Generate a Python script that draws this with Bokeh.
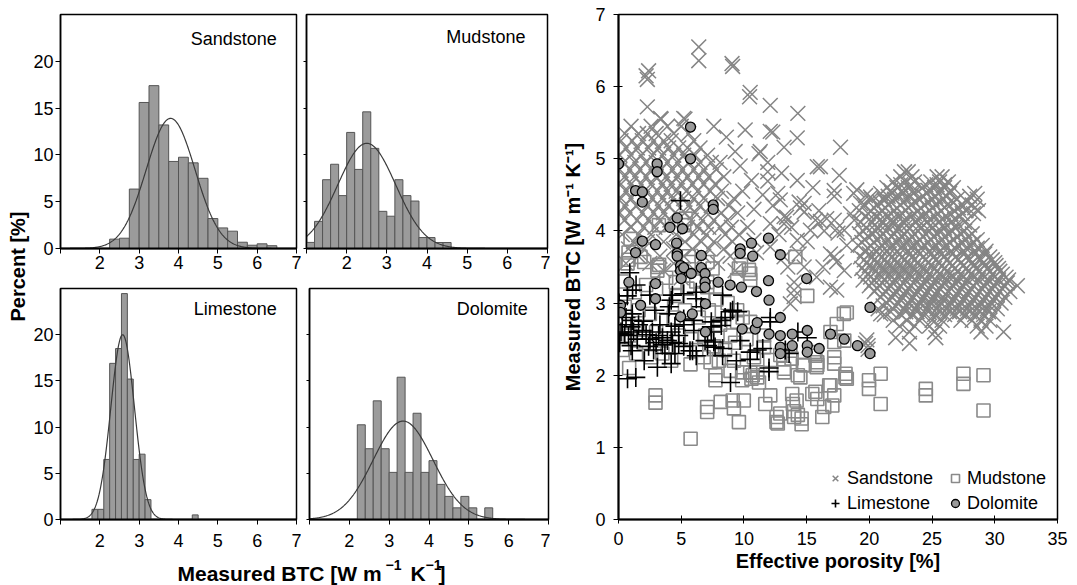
import numpy as np
from bokeh.plotting import figure
from bokeh.layouts import row, column
from bokeh.models import Range1d, Label, Legend, LegendItem, FixedTicker
from bokeh.embed import file_html
from bokeh.resources import INLINE

FONT = "Liberation Sans"

# ---------------- histogram data (percent of samples per BTC bin) ----------------
sand_bin_start, sand_bin_width = 2.25, 0.25
sand_pct = [1.0, 1.1, 6.35, 15.6, 17.4, 13.2, 9.3, 9.75, 9.15, 7.5, 3.2, 2.2, 1.85, 0.67, 0.35, 0.5, 0.3]
sand_fit = (3.8, 0.62, 13.9)          # mean, sd, peak of fitted normal

mud_bin_start, mud_bin_width = 1.0, 0.2
mud_pct = [0.65, 2.9, 7.35, 9.0, 5.65, 12.4, 8.45, 14.6, 10.7, 3.97, 3.45, 7.35, 5.65, 5.07, 1.17, 1.17, 0.64, 0.64]
mud_fit = (2.5, 0.72, 11.24)

lime_bin_start, lime_bin_width = 1.8, 0.15
lime_pct = [1.1, 1.1, 6.5, 16.9, 18.5, 24.45, 15.2, 6.5, 7.07, 2.15, 0, 0, 0, 0, 0, 0, 0, 0.5]
lime_fit = (2.58, 0.3, 20.0)

dolo_bin_start, dolo_bin_width = 2.2, 0.2
dolo_pct = [10.25, 7.66, 12.84, 7.66, 5.1, 15.4, 5.1, 11.5, 5.1, 6.37, 3.8, 2.5, 1.26, 2.5, 1.26, 0, 1.26]
dolo_fit = (3.35, 0.75, 10.65)

hist_x_ticks = [1, 2, 3, 4, 5, 6, 7]
hist_y_ticks = [0, 5, 10, 15, 20]

# ---------------- scatter data: effective porosity [%] vs measured BTC ----------------
sand_sparse_x = [2.2, 2.4, 2.3, 6.4, 6.4, 9.05, 9.1, 10.5, 10.45, 2.3, 12.1, 14.3, 3.35, 5.2, 10.1, 12.1, 14.25,
                 17.7, 11.2, 13.2, 15.85, 14.25, 11.9, 11.9, 17.2, 17.2, 18.75, 19.3, 20.1, 21.2,
                 12.3, 11.3, 16.1, 12.7, 12.9, 12.3, 14.5, 14.8, 14.8, 15.98, 16.6, 13.4, 13.8, 15.7, 15.3,
                 17.2, 17.4, 18.0, 19.0, 19.7, 18.5, 18.8, 12.1, 10.8, 12.1, 14.25, 14.4, 17.2, 17.4, 14.8,
                 14.0, 14.0, 16.9, 17.4, 15.8, 13.2, 13.2, 14.4, 16.1, 16.4, 17.5, 16.9, 15.05, 13.2, 13.5,
                 13.7, 14.0, 19.8, 19.9, 20.9, 17.6, 11.9, 13.0, 15.5, 18.2, 18.0, 16.3, 12.8, 11.5, 10.8,
                 10.6, 9.7, 9.3, 8.6, 7.6, 9.9, 11.0, 10.3]
sand_sparse_y = [6.15, 6.22, 6.1, 6.55, 6.36, 6.32, 6.28, 5.92, 5.86, 5.72, 5.74, 5.63, 5.56, 5.56, 5.4, 5.38, 5.29,
                 5.16, 5.07, 5.16, 4.89, 4.7, 4.82, 4.69, 4.56, 4.48, 4.52, 4.38, 4.47, 4.42,
                 5.37, 5.1, 4.89, 4.52, 4.43, 4.35, 4.32, 4.38, 4.26, 4.28, 4.17, 4.19, 4.05, 4.15, 4.01,
                 4.15, 4.03, 4.01, 4.57, 4.49, 4.24, 4.15, 4.1, 3.87, 3.78, 3.87, 3.68, 3.64, 3.57, 3.5,
                 3.18, 3.09, 3.22, 3.18, 3.36, 4.2, 4.1, 4.4, 4.13, 4.0, 3.97, 3.68, 3.85, 3.64, 3.5,
                 2.99, 3.29, 2.49, 2.41, 2.85, 4.77, 4.95, 4.8, 4.6, 3.8, 3.45, 3.5, 3.95, 4.5, 4.3,
                 4.7, 4.9, 5.1, 5.3, 5.45, 4.55, 3.7, 4.05]

# low-porosity sandstone cloud, listed row by row as (BTC, [porosity, ...])
sand_left_rows = [
    (5.55, [3.4, 5.3]),
    (5.45, [1.0, 2.6, 3.9, 5.0]),
    (5.35, [0.5, 1.6, 2.3, 3.0, 4.4, 5.6]),
    (5.25, [0.2, 1.1, 1.9, 2.8, 3.6, 4.2, 6.0]),
    (5.15, [0.6, 1.5, 2.4, 3.2, 4.0, 4.8, 5.5, 6.5]),
    (5.05, [0.1, 1.0, 1.8, 2.7, 3.5, 4.4, 5.2, 6.1, 7.1]),
    (4.95, [0.4, 1.3, 2.2, 3.0, 3.9, 4.7, 5.6, 6.5, 7.4, 8.1]),
    (4.85, [0.1, 0.9, 1.7, 2.6, 3.4, 4.3, 5.1, 6.0, 6.8, 7.8]),
    (4.75, [0.5, 1.3, 2.2, 3.0, 3.8, 4.7, 5.5, 6.4, 7.2, 8.4]),
    (4.65, [0.2, 1.0, 1.8, 2.6, 3.5, 4.2, 5.0, 5.9, 6.8, 7.7]),
    (4.55, [0.6, 1.4, 2.3, 3.1, 3.9, 4.6, 5.4, 6.3, 7.3, 8.2]),
    (4.45, [0.2, 1.0, 1.9, 2.7, 3.5, 4.3, 5.2, 6.0, 6.8, 7.9, 9.2]),
    (4.35, [0.5, 1.4, 2.3, 3.2, 4.0, 5.6, 6.5, 7.4, 8.8]),
    (4.25, [0.1, 0.9, 1.9, 2.8, 3.6, 4.5, 5.3, 6.1, 7.0, 8.2, 9.5]),
    (4.15, [0.5, 1.5, 2.4, 3.3, 4.1, 5.8, 6.7, 7.6, 8.7]),
    (4.05, [1.0, 2.0, 2.9, 3.8, 5.5, 6.3, 7.2, 8.1, 9.0]),
    (3.95, [0.3, 1.6, 2.6, 4.6, 6.0, 7.0, 8.5, 9.6]),
    (3.85, [1.2, 2.3, 3.6, 5.3, 6.6, 7.6, 9.1]),
    (3.75, [0.8, 2.0, 4.4, 5.9, 7.2, 8.4]),
    (3.65, [1.6, 3.3, 5.2, 6.8, 8.9]),
    (3.55, [0.6, 2.5, 4.4, 7.9]),
    (3.45, [3.6, 6.1, 9.3]),
    (3.35, [5.0]),
]

# high-porosity sandstone cluster
sand_right_rows = [
    (4.82, [22.8, 23.1]),
    (4.75, [22.5, 23.4, 25.4, 25.8]),
    (4.68, [21.9, 22.9, 23.6, 24.9, 25.6, 26.3]),
    (4.60, [21.4, 22.2, 23.1, 24.2, 25.2, 26.0, 26.7]),
    (4.52, [20.9, 21.8, 22.7, 23.5, 24.6, 25.5, 26.4, 28.4]),
    (4.44, [20.2, 21.2, 22.0, 23.0, 24.0, 25.0, 25.9, 27.0, 28.6]),
    (4.36, [19.6, 20.6, 21.5, 22.5, 23.3, 24.4, 25.3, 26.2, 27.4, 28.2]),
    (4.28, [19.2, 20.1, 21.0, 22.0, 22.9, 23.9, 24.8, 25.7, 26.8, 27.7, 28.7]),
    (4.20, [19.7, 20.5, 21.4, 22.3, 23.3, 24.2, 25.2, 26.1, 27.2]),
    (4.12, [19.3, 20.2, 21.0, 21.8, 22.7, 23.7, 24.6, 25.5, 26.5, 27.6]),
    (4.04, [19.8, 20.7, 21.5, 22.3, 23.2, 24.1, 25.0, 26.0, 26.9]),
    (3.96, [19.2, 20.3, 21.1, 22.0, 22.8, 23.6, 24.5, 25.4, 26.3, 27.3, 28.2]),
    (3.88, [19.6, 20.6, 21.5, 22.4, 23.2, 24.0, 24.9, 25.8, 26.7, 27.7, 28.6]),
    (3.80, [19.1, 20.1, 21.0, 21.8, 22.7, 23.5, 24.4, 25.3, 26.1, 27.1, 28.0, 29.0]),
    (3.72, [19.6, 20.5, 21.4, 22.2, 23.1, 23.9, 24.8, 25.6, 26.5, 27.5, 28.4, 29.3]),
    (3.64, [19.3, 20.2, 21.0, 21.8, 22.6, 23.4, 24.3, 25.1, 25.9, 26.9, 27.8, 28.7, 29.6]),
    (3.56, [19.8, 20.6, 21.4, 22.2, 23.0, 23.8, 24.7, 25.5, 26.4, 27.3, 28.2, 29.1, 30.0]),
    (3.48, [19.4, 20.3, 21.1, 21.9, 22.7, 23.5, 24.3, 25.2, 26.0, 26.8, 27.7, 28.5, 29.4, 30.3]),
    (3.40, [19.9, 20.8, 21.6, 22.4, 23.2, 24.0, 24.8, 25.6, 26.4, 27.3, 28.1, 29.0, 29.8, 30.6]),
    (3.32, [19.5, 20.4, 21.2, 22.0, 22.9, 23.7, 24.5, 25.3, 26.2, 27.0, 27.8, 28.7, 29.5, 30.3, 31.1]),
    (3.24, [20.0, 20.8, 21.7, 22.5, 23.3, 24.2, 25.0, 25.8, 26.7, 27.5, 28.3, 29.2, 30.0, 30.8, 31.8]),
    (3.16, [20.4, 21.3, 22.1, 22.9, 23.8, 24.6, 25.4, 26.3, 27.1, 27.9, 28.8, 29.6, 30.4, 31.2]),
    (3.08, [20.9, 21.8, 22.6, 23.5, 24.3, 25.1, 25.9, 26.8, 27.6, 28.4, 29.2, 30.0, 30.8]),
    (3.00, [21.4, 22.3, 23.1, 24.0, 24.9, 25.7, 26.5, 27.3, 28.1, 28.9, 29.7, 30.5]),
    (2.92, [20.7, 21.9, 22.8, 23.7, 24.6, 25.4, 26.2, 27.0, 27.8, 28.6, 29.4, 30.2]),
    (2.84, [21.2, 22.5, 23.4, 24.3, 25.2, 26.0, 26.8, 27.6, 28.4, 29.1, 29.9]),
    (2.76, [21.9, 23.0, 24.0, 25.0, 25.8, 27.3, 28.2, 28.9, 29.6]),
    (2.68, [22.4, 23.6, 24.8, 25.6, 28.6, 29.3]),
    (2.60, [23.2, 25.2, 28.9, 30.7]),
    (2.52, [22.1, 25.3]),
    (2.44, [23.2, 19.7]),
    (2.36, [19.9]),
]

# densest core of the high-porosity cluster
sand_core_rows = [
    (4.64, [22.5, 23.3, 24.5, 25.4, 26.0]),
    (4.56, [21.7, 22.6, 23.5, 24.7, 25.7, 26.5]),
    (4.48, [21.5, 22.4, 23.3, 24.3, 25.3, 26.1, 28.0]),
    (4.40, [20.8, 21.7, 22.7, 23.6, 24.7, 25.6, 26.7, 27.8]),
    (4.32, [20.4, 21.3, 22.2, 23.1, 24.1, 25.0, 26.0, 27.1, 28.4]),
    (4.24, [19.9, 20.8, 21.7, 22.6, 23.6, 24.5, 25.5, 26.5, 27.4, 28.3]),
    (4.16, [20.0, 20.9, 21.8, 22.8, 23.8, 24.8, 25.8, 26.8]),
    (4.08, [20.4, 21.3, 22.0, 23.0, 24.0, 24.9, 25.9, 26.9, 28.0]),
    (4.00, [19.5, 20.5, 21.3, 22.2, 23.0, 23.9, 24.8, 25.7, 26.6, 27.6]),
    (3.92, [19.9, 20.9, 21.8, 22.6, 23.4, 24.3, 25.1, 26.0, 27.0, 27.9]),
    (3.84, [19.4, 20.4, 21.3, 22.2, 23.0, 23.8, 24.7, 25.6, 26.4, 27.4, 28.3]),
    (3.76, [19.9, 20.8, 21.6, 22.5, 23.3, 24.1, 25.0, 25.9, 26.8, 27.7, 28.6]),
    (3.68, [20.0, 20.8, 21.6, 22.4, 23.2, 24.0, 24.9, 25.8, 26.6, 27.5, 28.4, 29.2]),
    (3.60, [19.6, 20.4, 21.2, 22.0, 22.8, 23.6, 24.5, 25.3, 26.2, 27.1, 28.0, 28.9, 29.8]),
    (3.52, [20.0, 20.8, 21.6, 22.4, 23.2, 24.0, 24.9, 25.8, 26.6, 27.5, 28.3, 29.2, 30.1]),
    (3.44, [19.7, 20.5, 21.3, 22.1, 22.9, 23.8, 24.6, 25.4, 26.2, 27.0, 27.9, 28.7, 29.6, 30.4]),
    (3.36, [20.1, 21.0, 21.8, 22.6, 23.4, 24.2, 25.0, 25.9, 26.7, 27.5, 28.4, 29.2, 30.0, 30.9]),
    (3.28, [20.2, 21.0, 21.9, 22.7, 23.5, 24.3, 25.1, 25.9, 26.8, 27.6, 28.5, 29.3, 30.1, 31.0]),
    (3.20, [20.6, 21.5, 22.3, 23.1, 24.0, 24.8, 25.6, 26.5, 27.3, 28.1, 29.0, 29.8, 30.6]),
    (3.12, [21.1, 22.0, 22.8, 23.7, 24.5, 25.3, 26.1, 27.0, 27.8, 28.6, 29.4, 30.2]),
    (3.04, [21.6, 22.5, 23.3, 24.2, 25.0, 25.9, 26.7, 27.5, 28.3, 29.1, 29.9]),
    (2.96, [21.1, 22.1, 23.0, 23.9, 24.8, 25.6, 26.4, 27.2, 28.0, 28.8, 29.6]),
    (2.88, [21.7, 22.9, 23.8, 24.7, 25.6, 26.4, 27.2, 28.0, 28.8, 29.5]),
]

mud_x = [5.75, 2.95, 2.95, 7.07, 7.07, 8.15, 9.1, 9.2, 9.6, 9.99, 11.7, 12.1, 12.6, 12.6, 12.9, 13.85, 13.9, 14.0,
         14.0, 14.3, 14.6, 14.6, 14.2, 15.45, 15.85, 16.25, 16.8, 17.05, 18.1, 18.1, 19.97, 19.97, 20.9, 20.9,
         24.5, 24.5, 27.5, 27.5, 29.1, 29.1,
         15.05, 17.97, 17.4, 16.9, 17.2, 18.0, 17.2, 17.2, 15.85, 15.85, 15.6, 14.8, 14.3, 13.2, 12.9, 13.7,
         11.06, 11.06, 10.5, 10.7, 9.86, 9.86, 8.93, 7.73, 7.73, 7.34, 5.74, 6.8, 9.46, 9.46, 8.93, 10.5,
         11.6, 11.6, 12.1, 10.8, 0.85, 10.6, 11.2, 13.2, 14.5, 15.8, 16.9, 18.2, 12.7, 15.7, 16.4, 17.2,
         13.8, 14.7, 15.7, 18.2,
         3.22, 5.35, 0.96, 0.8, 0.8, 3.1, 3.1, 5.6, 5.6, 7.1, 9.6, 10.5, 10.5, 14.1, 9.46, 7.07, 7.07, 4.57,
         1.76, 0.72, 2.05, 3.24, 5.24, 9.76, 10.4, 7.5,
         0.4, 1.3, 2.2, 3.0, 3.8, 4.6, 5.5, 6.2, 6.7, 7.8, 8.7, 0.5, 1.6, 2.5, 3.4, 4.4, 5.3, 6.4, 7.2, 8.1,
         9.9, 0.9, 2.0, 3.0, 3.9, 4.8, 5.8, 6.9, 7.6, 8.5, 9.3, 10.2, 1.4, 2.6, 4.2, 6.2, 8.0, 9.2, 0.3, 3.5]
mud_y = [1.12, 1.72, 1.62, 1.56, 1.49, 1.63, 1.65, 1.54, 1.35, 1.65, 1.6, 1.72, 1.42, 1.35, 1.47, 1.74, 1.6, 1.5,
         1.42, 1.45, 1.4, 1.32, 1.65, 1.74, 1.67, 1.42, 1.86, 1.58, 2.02, 1.97, 1.93, 1.81, 2.02, 1.6,
         1.81, 1.72, 2.02, 1.88, 2.0, 1.51,
         3.1, 2.85, 2.71, 2.6, 2.46, 2.48, 2.25, 2.16, 2.18, 2.14, 2.32, 2.14, 2.0, 2.09, 2.28, 2.34,
         2.04, 1.97, 2.04, 2.0, 2.04, 1.93, 2.06, 2.0, 1.93, 2.18, 2.15, 2.25, 2.9, 2.74, 2.55, 2.74,
         2.55, 2.39, 2.21, 2.25, 2.1, 1.95, 1.9, 2.04, 1.97, 2.11, 1.86, 1.95, 1.33, 1.77, 1.56, 1.72,
         2.23, 2.14, 2.27, 2.87,
         4.08, 4.17, 3.89, 3.7, 3.6, 3.5, 3.45, 3.65, 3.57, 3.57, 3.48, 3.41, 3.32, 3.64, 3.32, 3.29, 3.22, 3.29,
         3.64, 3.55, 3.57, 3.53, 4.08, 3.53, 3.46, 3.48,
         3.3, 3.15, 3.25, 3.2, 3.35, 3.1, 3.2, 3.3, 3.14, 3.05, 3.0, 2.95, 2.9, 2.85, 2.95, 2.8, 2.9, 2.8, 2.9, 2.7,
         2.8, 2.55, 2.45, 2.6, 2.4, 2.55, 2.5, 2.55, 2.4, 2.35, 2.45, 2.5, 2.3, 2.25, 2.2, 2.35, 2.2, 2.2, 2.35, 2.3]

lime_x = [4.94, 0.9, 0.72, 1.38, 8.93, 12.0, 12.0, 14.3, 15.05, 13.3, 13.6,
          1.12, 2.5, 4.3, 4.2, 4.05, 6.2, 6.2, 5.2, 8.3, 9.1, 8.2, 8.2, 7.4, 7.4, 6.0, 6.0, 5.2, 5.2, 4.2, 4.5,
          4.8, 0.05, 0.3, 1.1, 1.1, 1.0, 1.2, 0.2, 0.0, 0.5, 0.8, 1.9, 2.2, 2.5, 2.7, 3.2, 3.0, 3.5, 3.5, 3.9,
          4.3, 4.8, 5.2, 1.0, 1.1, 2.05, 3.1, 4.2, 5.9, 6.2, 7.4, 7.6, 7.7, 8.3, 8.3, 9.4, 9.5, 10.5, 8.5,
          11.5, 10.5, 11.06, 9.7, 8.93, 6.9, 7.1, 5.7, 12.1, 12.1,
          0.3, 0.6, 1.5, 2.0, 2.8, 3.7, 4.5, 0.1, 1.6, 2.4, 3.3, 4.0, 0.7, 2.9, 6.6, 1.4]
lime_y = [4.42, 3.42, 1.95, 1.97, 1.9, 2.1, 2.05, 2.6, 2.52, 2.35, 2.3,
          3.18, 3.11, 3.11, 3.04, 2.95, 3.15, 3.06, 3.13, 3.11, 2.9, 2.76, 2.69, 2.74, 2.67, 2.76, 2.62, 2.78, 2.7,
          2.6, 2.68, 2.55, 3.0, 2.9, 2.85, 2.76, 2.67, 2.6, 2.6, 2.58, 2.57, 2.55, 2.62, 2.56, 2.5, 2.6, 2.55,
          2.45, 2.42, 2.52, 2.48, 2.45, 2.44, 2.4, 2.41, 2.34, 2.2, 2.11, 2.16, 2.34, 2.27, 2.6, 2.46, 2.39,
          2.37, 2.27, 2.2, 2.88, 2.22, 2.8, 2.37, 2.32, 2.35, 2.48, 2.88, 2.48, 2.41, 2.34, 2.8, 2.74,
          2.7, 2.8, 2.5, 2.75, 2.35, 2.3, 2.3, 2.45, 2.7, 2.4, 2.7, 2.85, 3.1, 2.9, 2.95, 3.25]

dolo_x = [0.0, 5.74, 5.74, 3.08, 3.08, 1.36, 1.9, 1.9, 7.55, 7.55, 4.68, 4.1, 5.1, 1.9, 2.95, 4.63, 4.68, 4.68,
          4.95, 4.95, 5.2, 1.36, 0.83, 2.95, 5.8, 6.6, 6.6, 6.9, 6.9, 6.9, 7.95, 8.9, 9.7, 9.7, 10.6, 10.7,
          9.8, 11.0, 11.96, 12.9, 11.96, 15.0, 0.16, 0.16, 1.76, 2.95, 4.95, 5.88, 6.93, 6.93, 12.0, 9.86,
          10.9, 11.06, 12.0, 12.9, 12.9, 12.9, 12.9, 13.85, 13.85, 15.05, 15.05, 15.05, 16.0, 16.9, 18.0,
          19.05, 20.05, 20.05, 5.0]
dolo_y = [4.93, 5.44, 5.0, 4.93, 4.82, 4.56, 4.54, 4.4, 4.36, 4.3, 4.18, 4.05, 4.03, 3.86, 3.81, 3.83, 3.69, 3.65,
          3.52, 3.45, 3.49, 3.7, 3.29, 3.27, 3.41, 3.66, 3.49, 3.41, 3.29, 3.22, 3.29, 3.25, 3.75, 3.69, 3.83, 3.65,
          3.22, 3.16, 3.9, 3.67, 3.31, 3.34, 2.97, 2.87, 2.97, 3.06, 2.81, 2.85, 2.99, 2.6, 3.04, 2.64,
          2.64, 2.73, 2.57, 2.8, 2.55, 2.39, 2.3, 2.57, 2.41, 2.62, 2.41, 2.32, 2.37, 2.57, 2.5,
          2.41, 2.94, 2.3, 3.34]

scatter_x_ticks = [0, 5, 10, 15, 20, 25, 30, 35]
scatter_y_ticks = [0, 1, 2, 3, 4, 5, 6, 7]


def flatten(rows):
    xs, ys = [], []
    for yv, xlist in rows:
        xs += list(xlist)
        ys += [yv] * len(xlist)
    return xs, ys


def style_axes(p, size="18px"):
    for ax in (p.xaxis + p.yaxis):
        ax.major_label_text_font = FONT
        ax.major_label_text_font_size = size
        ax.major_label_text_color = "black"
        ax.axis_line_color = "black"
        ax.major_tick_line_color = "black"
        ax.minor_tick_line_color = None
        ax.axis_label_text_font = FONT
        ax.axis_label_text_font_style = "bold"
        ax.axis_label_text_font_size = "20px"
        ax.axis_label_text_color = "black"
    p.xgrid.visible = False
    p.ygrid.visible = False


def hist_panel(name, start, width, pct, fit, w, h, borders, show_y_labels, x_standoff, name_x, name_y):
    bl, br, bt, bb = borders
    p = figure(width=w, height=h, x_range=Range1d(1, 7), y_range=Range1d(0, 25),
               output_backend="svg", toolbar_location=None,
               min_border_left=bl, min_border_right=br, min_border_top=bt, min_border_bottom=bb)
    lefts = [start + i * width for i, v in enumerate(pct) if v > 0]
    tops = [v for v in pct if v > 0]
    rights = [l + width for l in lefts]
    p.quad(left=lefts, right=rights, bottom=0, top=tops,
           fill_color="#9b9b9b", line_color="#555555", line_width=1)
    mean, sd, peak = fit
    xs = np.linspace(1, 7, 400)
    p.line(xs, peak * np.exp(-0.5 * ((xs - mean) / sd) ** 2), line_color="#3a3a3a", line_width=1.2)
    p.add_layout(Label(x=name_x, y=name_y, text=name, text_align="right", text_baseline="middle",
                       text_font=FONT, text_font_size="18px", text_color="black"))
    style_axes(p)
    p.xaxis.ticker = FixedTicker(ticks=hist_x_ticks)
    p.xaxis.major_label_overrides = {1: ""}
    p.yaxis.ticker = FixedTicker(ticks=hist_y_ticks)
    p.xaxis.axis_line_width = 2
    p.yaxis.axis_line_width = 1.5
    p.xaxis.major_tick_in = 0
    p.xaxis.major_tick_out = 5
    p.yaxis.major_tick_in = 0
    p.xaxis.major_label_standoff = x_standoff
    if show_y_labels:
        p.yaxis.major_tick_out = 5
        p.yaxis.major_label_standoff = 2
    else:
        p.yaxis.major_tick_out = 3
        p.yaxis.major_label_standoff = 0
        p.yaxis.major_label_overrides = {t: "" for t in hist_y_ticks}
    p.outline_line_color = "black"
    p.outline_line_width = 1.5
    return p


tl = hist_panel("Sandstone", sand_bin_start, sand_bin_width, sand_pct, sand_fit,
                271, 287, (28, 5, 14, 39), True, 2, 6.5, 22.4)
tr = hist_panel("Mudstone", mud_bin_start, mud_bin_width, mud_pct, mud_fit,
                249, 287, (5, 3, 14, 39), False, 2, 6.45, 22.6)
bl = hist_panel("Limestone", lime_bin_start, lime_bin_width, lime_pct, lime_fit,
                271, 268, (28, 5, 1, 36), True, 9, 6.5, 22.8)
br = hist_panel("Dolomite", dolo_bin_start, dolo_bin_width, dolo_pct, dolo_fit,
                249, 268, (8, 2, 1, 36), False, 9, 6.48, 22.8)


def strip(w, h):
    f = figure(width=w, height=h, x_range=Range1d(0, w), y_range=Range1d(h, 0),
               x_axis_type=None, y_axis_type=None, output_backend="svg", toolbar_location=None,
               min_border=0)
    f.outline_line_color = None
    f.xgrid.visible = False
    f.ygrid.visible = False
    return f


left_strip = strip(30, 555)
left_strip.add_layout(Label(x=17, y=266, text="Percent [%]", angle=np.pi / 2, text_align="center",
                            text_baseline="middle", text_font=FONT, text_font_style="bold",
                            text_font_size="20px", text_color="black"))

bottom_strip = strip(550, 30)
title_parts = [("Measured BTC [W m", 177, 18, "21px"), ("\u22121", 385, 9, "14px"),
               ("K", 410, 18, "21px"), ("\u22121", 425, 9, "14px"), ("]", 438, 18, "21px")]
for txt, xx, yy, fs in title_parts:
    bottom_strip.add_layout(Label(x=xx, y=yy, text=txt, text_align="left", text_baseline="middle",
                                  text_font=FONT, text_font_style="bold", text_font_size=fs,
                                  text_color="black"))

# ---------------- scatter ----------------
s = figure(width=527, height=585, x_range=Range1d(0, 35), y_range=Range1d(0, 7),
           output_backend="svg", toolbar_location=None,
           min_border_left=68, min_border_right=20, min_border_top=14, min_border_bottom=66)

lx, ly = flatten(sand_left_rows)
rx, ry = flatten(sand_right_rows)
cx, cy = flatten(sand_core_rows)
sand_x = sand_sparse_x + lx + rx + cx
sand_y = sand_sparse_y + ly + ry + cy

r_sand = s.scatter(sand_x, sand_y, marker="x", size=21, line_color="#858585", line_width=1.5)
r_mud = s.scatter(mud_x, mud_y, marker="square", size=13, fill_color=None, line_color="#8a8a8a", line_width=1.6)
r_lime = s.scatter(lime_x, lime_y, marker="cross", size=19, line_color="black", line_width=1.6)
r_dolo = s.scatter(dolo_x, dolo_y, marker="circle", size=10, fill_color="#9a9a9a", line_color="black",
                   line_width=1.3)

style_axes(s)
s.xaxis.ticker = FixedTicker(ticks=scatter_x_ticks)
s.yaxis.ticker = FixedTicker(ticks=scatter_y_ticks)
s.xaxis.axis_label = "Effective porosity [%]"
s.yaxis.axis_label = "Measured BTC [W m\u207b\u00b9 K\u207b\u00b9]"
s.xaxis.axis_line_width = 2
s.yaxis.axis_line_width = 2
s.xaxis.major_tick_in = 4
s.xaxis.major_tick_out = 4
s.yaxis.major_tick_in = 4
s.yaxis.major_tick_out = 5
s.xaxis.major_label_standoff = 8
s.yaxis.major_label_standoff = 8
s.xaxis.axis_label_standoff = 2
s.yaxis.axis_label_standoff = 8
s.outline_line_color = "black"
s.outline_line_width = 1.5

legend = Legend(items=[LegendItem(label="Sandstone", renderers=[r_sand]),
                       LegendItem(label="Mudstone", renderers=[r_mud]),
                       LegendItem(label="Limestone", renderers=[r_lime]),
                       LegendItem(label="Dolomite", renderers=[r_dolo])],
                orientation="horizontal", ncols=2, location=(207, 5),
                label_text_font=FONT, label_text_font_size="18px", label_text_color="black",
                glyph_width=20, glyph_height=22, label_height=22, label_width=95,
                label_standoff=2, spacing=3, padding=0, margin=0,
                border_line_color=None, background_fill_alpha=0)
s.add_layout(legend, "center")

left_grid = column(row(tl, tr), row(bl, br))
left_block = column(row(left_strip, left_grid), bottom_strip)
page = row(left_block, s)

open("out.html", "w").write(file_html(page, INLINE))
